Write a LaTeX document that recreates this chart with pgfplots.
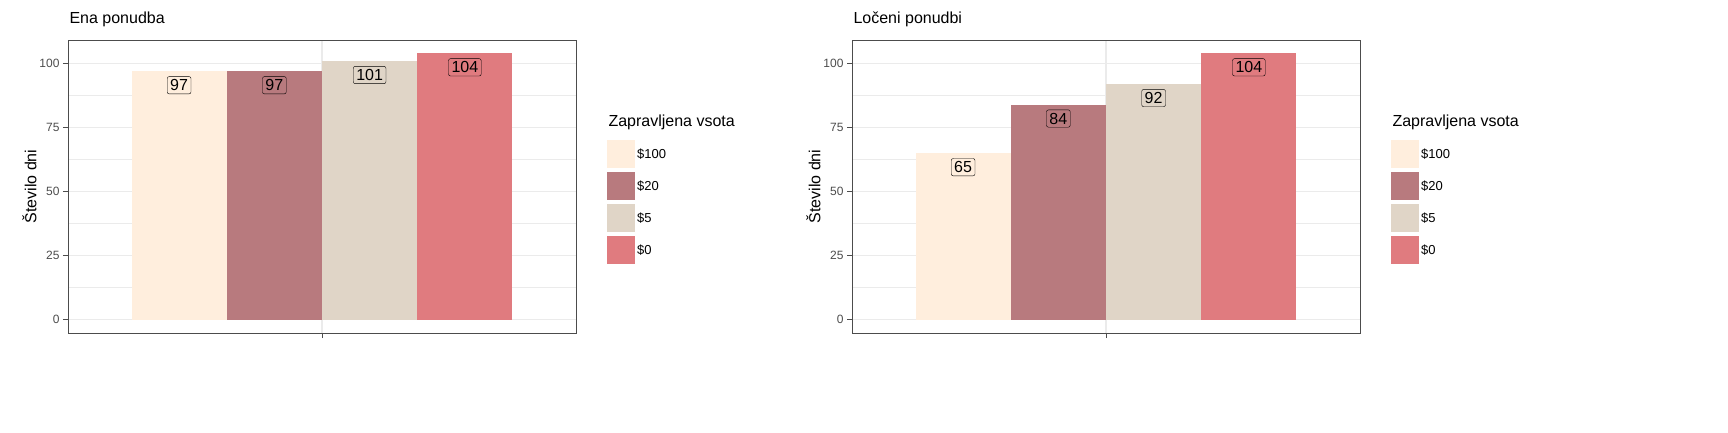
\documentclass[border=0pt]{standalone}
\usepackage{pgfplots}
\pgfplotsset{compat=1.18}
\usepackage{fontspec}
\setmainfont{Liberation Sans}
\definecolor{cA}{HTML}{FFEEDD}
\definecolor{cB}{HTML}{B87A7E}
\definecolor{cC}{HTML}{E0D5C7}
\definecolor{cD}{HTML}{E07B7F}
\definecolor{gr}{HTML}{EBEBEB}
\pgfplotsset{
 panel/.style={
  width=508pt,height=293pt,scale only axis,
  xmin=0.4,xmax=1.6,ymin=-5.2,ymax=109.2,
  xtick={1},xticklabels={},
  ytick={0,25,50,75,100},minor ytick={12.5,37.5,62.5,87.5},
  ytick pos=left,xtick pos=bottom,
  /pgf/number format/assume math mode=true,
  grid=both,major grid style={gr,line width=1.1pt},minor grid style={gr,line width=0.6pt},
  axis line style={black!70,line width=0.6pt},
  tick style={black!70,line width=0.6pt},
  tick align=outside,major tick length=5pt,minor tick length=0pt,
  yticklabel style={font=\fontsize{12}{12}\selectfont,text=black!70},
  ylabel={Število dni},ylabel style={font=\fontsize{16}{16}\selectfont},
  ylabel shift=-4pt,
  title style={font=\fontsize{16}{16}\selectfont,anchor=south west,at={(0,1)},yshift=4pt,xshift=-2pt},
  ybar,bar shift=0pt,bar width=95pt,
  nodes near coords,
  every node near coord/.append style={font=\fontsize{16}{16}\selectfont,draw=black,rounded corners=2pt,inner sep=3pt,anchor=center,yshift=-14pt},
  legend style={draw=none,fill=none,at={(1.055,0.665)},anchor=north west,font=\fontsize{13}{13}\selectfont,row sep=4pt},
  legend cell align=left,
  legend image code/.code={\fill[##1] (0pt,-14pt) rectangle (28pt,14pt);},
 },
}
\begin{document}
\begin{tikzpicture}[x=1pt,y=1pt]
\begin{scope}[shift={(68,99)}]
\begin{axis}[panel,title={Ena ponudba},anchor=south west,at={(0,0)}]
\addplot[fill=cA,draw=none,every node near coord/.append style={fill=cA}] coordinates {(0.6625,97)};
\addplot[fill=cB,draw=none,every node near coord/.append style={fill=cB}] coordinates {(0.8875,97)};
\addplot[fill=cC,draw=none,every node near coord/.append style={fill=cC}] coordinates {(1.1125,101)};
\addplot[fill=cD,draw=none,every node near coord/.append style={fill=cD}] coordinates {(1.3375,104)};
\legend{\$100,\$20,\$5,\$0}
\end{axis}
\node[anchor=west,font=\fontsize{16}{16}\selectfont] at (537,211) {Zapravljena vsota};
\end{scope}
\begin{scope}[shift={(852,99)}]
\begin{axis}[panel,title={Ločeni ponudbi},anchor=south west,at={(0,0)}]
\addplot[fill=cA,draw=none,every node near coord/.append style={fill=cA}] coordinates {(0.6625,65)};
\addplot[fill=cB,draw=none,every node near coord/.append style={fill=cB}] coordinates {(0.8875,84)};
\addplot[fill=cC,draw=none,every node near coord/.append style={fill=cC}] coordinates {(1.1125,92)};
\addplot[fill=cD,draw=none,every node near coord/.append style={fill=cD}] coordinates {(1.3375,104)};
\legend{\$100,\$20,\$5,\$0}
\end{axis}
\node[anchor=west,font=\fontsize{16}{16}\selectfont] at (537,211) {Zapravljena vsota};
\end{scope}
\pgfresetboundingbox
\useasboundingbox (0,0) rectangle (1728,432);
\end{tikzpicture}
\end{document}
